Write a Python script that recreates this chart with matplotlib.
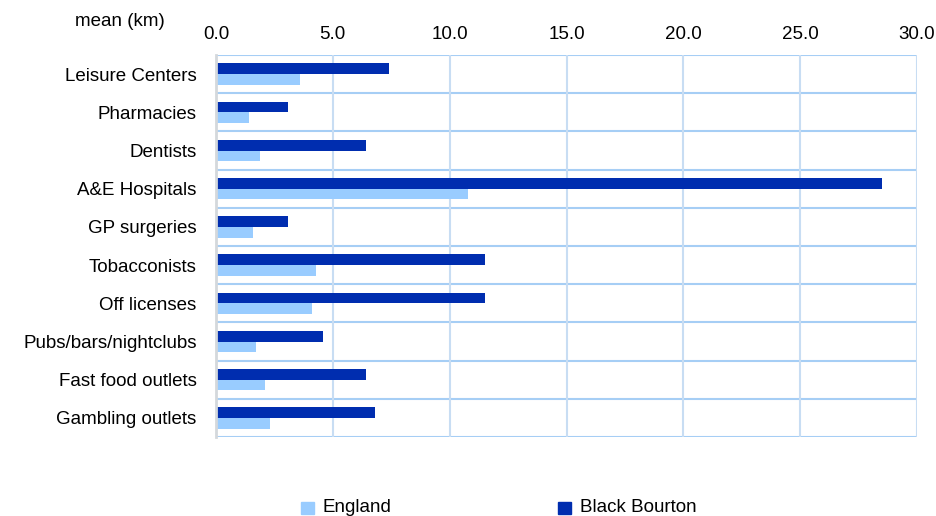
import matplotlib.pyplot as plt
import numpy as np

plt.rcParams['font.family'] = ['Liberation Sans', 'DejaVu Sans']

categories = ['Leisure Centers', 'Pharmacies', 'Dentists', 'A&E Hospitals', 'GP surgeries',
              'Tobacconists', 'Off licenses', 'Pubs/bars/nightclubs', 'Fast food outlets',
              'Gambling outlets']
england = [3.6, 1.4, 1.9, 10.8, 1.6, 4.3, 4.1, 1.7, 2.1, 2.3]
black_bourton = [7.4, 3.1, 6.4, 28.5, 3.1, 11.5, 11.5, 4.6, 6.4, 6.8]
ticks = [0, 5, 10, 15, 20, 25, 30]

light = '#99CCFF'
dark = '#002DAF'
fs = 13.5

fig = plt.figure(figsize=(9.37, 5.16), dpi=100)
ax = fig.add_axes([0.2305, 0.1531, 0.7482, 0.7403])

y = np.arange(len(categories))
h = 0.28
ax.barh(y - h / 2, black_bourton, height=h, color=dark, label='Black Bourton', zorder=3)
ax.barh(y + h / 2, england, height=h, color=light, label='England', zorder=3)

ax.set_ylim(len(categories) - 0.5, -0.5)
ax.set_xlim(0, 30)
ax.set_yticks(y)
ax.set_yticklabels(categories, fontsize=fs)
ax.set_xticks(ticks)
ax.set_xticklabels(['%.1f' % t for t in ticks], fontsize=fs)
ax.xaxis.tick_top()
ax.tick_params(length=0, pad=9)
ax.tick_params(axis='y', pad=14)

# grid: row separators and vertical tick lines
for b in np.arange(-0.5, len(categories), 1):
    ax.axhline(b, color='#A6CEF5', lw=1.5, zorder=1)
for t in ticks[1:]:
    ax.axvline(t, color='#C8DDF3', lw=1.5, zorder=1)

for s in ['top', 'right', 'bottom']:
    ax.spines[s].set_visible(False)
ax.spines['left'].set_color('#D4D8DC')
ax.spines['left'].set_linewidth(2)
ax.spines['left'].set_zorder(4)

fig.text(75 / 937, 1 - 21 / 516, 'mean (km)', fontsize=fs, va='center', ha='left')

# legend
fig.patches.append(plt.Rectangle((301 / 937, 1 - 514 / 516), 13 / 937, 12 / 516,
                                 transform=fig.transFigure, color=light))
fig.text(323 / 937, 1 - 507 / 516, 'England', fontsize=fs, va='center')
fig.patches.append(plt.Rectangle((558 / 937, 1 - 514 / 516), 13 / 937, 12 / 516,
                                 transform=fig.transFigure, color=dark))
fig.text(580 / 937, 1 - 507 / 516, 'Black Bourton', fontsize=fs, va='center')

fig.savefig('out.png', dpi=100)
